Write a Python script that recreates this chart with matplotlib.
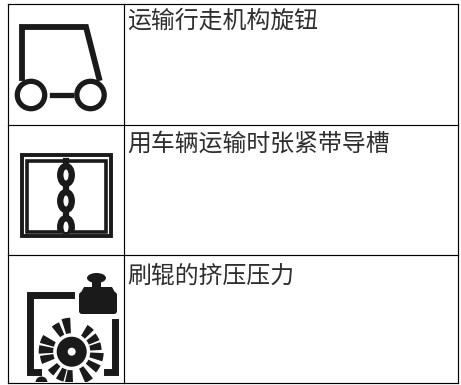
import matplotlib
matplotlib.use("Agg")
import matplotlib.pyplot as plt
from matplotlib.patches import Circle, Ellipse, FancyBboxPatch, Polygon, Rectangle, Wedge

plt.rcParams['font.family'] = ['Noto Sans CJK SC', 'DejaVu Sans']

labels = ["运输行走机构旋钮", "用车辆运输时张紧带导槽", "刷辊的挤压压力"]
row_lines = [4, 125, 255, 383]
col_lines = [8, 124, 458]
label_y = [21, 144, 276]

# brush bristles: angle on screen (counter clockwise from the right), outer radius
bristle_angle = [100, 121, 157, 176, 195, 225, 247, 265, 301, 327, 350, 11, 30, 52]
bristle_r = [34, 32, 33, 33, 32, 30, 31, 34, 34, 32, 32, 30, 30, 31]
chain_y = [175, 201, 227]

fig = plt.figure(figsize=(4.61, 3.85), dpi=100)
ax = fig.add_axes([0, 0, 1, 1])
ax.set_xlim(0, 461)
ax.set_ylim(385, 0)
ax.axis("off")

# table lines
for y in row_lines:
    ax.plot([col_lines[0], col_lines[2]], [y, y], color="black", lw=0.85)
for x in col_lines:
    ax.plot([x, x], [row_lines[0], row_lines[3]], color="black", lw=0.85)

for y, label in zip(label_y, labels):
    ax.text(127, y, label, fontsize=17.2, color="#2e2e2e", va="center", ha="left")

# cart icon
ink = "#1a1a1a"
ax.plot([22, 22, 86, 99], [78, 27, 27, 78], color=ink, lw=4.2, solid_joinstyle="miter")
for cx in [31, 90.5]:
    ax.add_patch(Circle((cx, 95), 13.7, fill=False, ec=ink, lw=3.8))
ax.plot([52, 71], [95, 95], color=ink, lw=3.8)

# chain icon
ax.add_patch(Rectangle((21.5, 155), 89, 81, fill=False, ec=ink, lw=2.8))
ax.add_patch(Rectangle((27, 160.5), 78.5, 71, fill=False, ec=ink, lw=2.6))
ax.plot([66, 66], [161, 231], color=ink, lw=4.5, zorder=0.5)
chain_clip = Rectangle((27, 160), 79, 72, transform=ax.transData)
for y in chain_y:
    link = Ellipse((66, y), 11.5, 18, fc="white", ec=ink, lw=4.6)
    ax.add_patch(link)
    link.set_clip_path(chain_clip)

# weight icon
ax.add_patch(FancyBboxPatch((81, 294), 34, 18, boxstyle="round,pad=2,rounding_size=3", fc=ink, ec="none"))
ax.add_patch(Polygon([(79, 296), (84, 287), (112, 287), (117, 296)], fc=ink, ec="none"))
ax.add_patch(Ellipse((96.5, 278), 19, 10, fc=ink, ec="none"))
ax.add_patch(Rectangle((92, 280), 9, 9, fc=ink, ec="none"))

# brackets around the brush
ax.plot([71, 29.5, 29.5, 38], [294.5, 294.5, 372, 372], color=ink, lw=5, solid_joinstyle="miter")
ax.plot([115, 115, 107], [322, 372, 372], color=ink, lw=5, solid_joinstyle="miter")

# brush
brush_clip = Rectangle((0, 0), 461, 382, transform=ax.transData)
ax.add_patch(Circle((71.7, 351.7), 15, fc=ink, ec="none"))
ax.add_patch(Circle((71.7, 351.7), 4, fc="white", ec="none"))
for angle, r in zip(bristle_angle, bristle_r):
    # y axis is flipped, so screen angles are negated for Wedge
    bristle = Wedge((71.7, 351.7), r, -angle - 7.5, -angle + 7.5, width=r - 18.5, fc=ink, ec="none")
    ax.add_patch(bristle)
    bristle.set_clip_path(brush_clip)
blob = Circle((41.5, 382.5), 6, fc=ink, ec="none")
ax.add_patch(blob)
blob.set_clip_path(brush_clip)

fig.savefig("out.png", dpi=100)
